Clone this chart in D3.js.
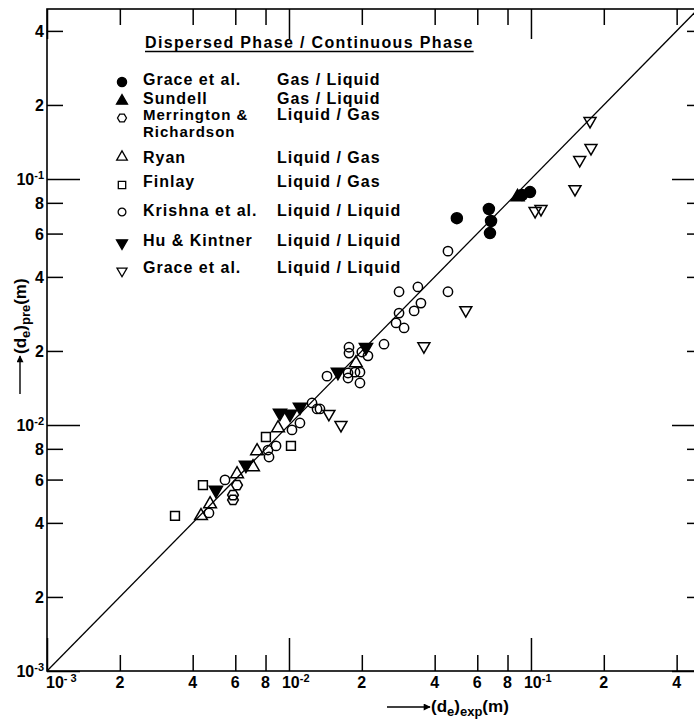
<!DOCTYPE html>
<html>
<head>
<meta charset="utf-8">
<title>Predicted vs experimental drop diameter</title>
<script src="https://d3js.org/d3.v7.min.js"></script>
<style>
    body { margin: 0; background: #fff; }
    svg { display: block; font-family: "Liberation Sans", Arial, Helvetica, sans-serif; font-weight: bold; }
</style>
</head>
<body>
<div id="chart"></div>
<script>
    // Data: [d_e experimental, d_e predicted] in metres
    const graceGasLiquid = [[0.0494, 0.0693], [0.0670, 0.0755], [0.0684, 0.0675], [0.0677, 0.0603], [0.0918, 0.0861], [0.0991, 0.0885]];
    const sundell = [[0.0880, 0.0845]];
    const merrington = [[0.0061, 0.0057], [0.00587, 0.00519], [0.00587, 0.00496]];
    const ryan = [[0.00433, 0.00427], [0.00472, 0.00477], [0.0061, 0.00632], [0.0071, 0.00675], [0.00738, 0.00784], [0.00901, 0.00972], [0.01891, 0.01786]];
    const finlay = [[0.00338, 0.00427], [0.00441, 0.0057], [0.00803, 0.00894], [0.01019, 0.00822]];
    const krishna = [[0.0454, 0.0509], [0.0454, 0.0348], [0.0341, 0.0364], [0.0285, 0.0348], [0.0351, 0.0313], [0.0285, 0.0285],
        [0.0329, 0.0291], [0.0277, 0.0260], [0.0299, 0.0248], [0.0247, 0.0213], [0.0177, 0.0207], [0.0177, 0.0196],
        [0.0200, 0.0198], [0.0212, 0.0191], [0.01436, 0.0158], [0.01754, 0.01627], [0.01754, 0.01553], [0.01874, 0.0164],
        [0.01965, 0.0164], [0.01965, 0.01482], [0.01245, 0.01229], [0.01306, 0.01162], [0.01343, 0.01162], [0.0111, 0.01019],
        [0.01029, 0.00955], [0.00819, 0.00791], [0.00884, 0.00822], [0.00827, 0.00741], [0.00544, 0.00598], [0.00467, 0.00439]];
    const huKintner = [[0.00499, 0.00544], [0.00664, 0.00688], [0.00918, 0.01119], [0.0101, 0.01109], [0.0111, 0.01184], [0.01593, 0.0164], [0.0208, 0.0207]];
    const graceLiquidLiquid = [[0.1754, 0.172], [0.177, 0.1337], [0.159, 0.1194], [0.152, 0.091], [0.104, 0.0741], [0.110, 0.0755],
        [0.0538, 0.0293], [0.0361, 0.0209], [0.01462, 0.0111], [0.0164, 0.0100]];

    const seriesNames = [["Grace et al."], ["Sundell"], ["Merrington &", "Richardson"], ["Ryan"], ["Finlay"], ["Krishna et al."], ["Hu & Kintner"], ["Grace et al."]];
    const seriesPhases = ["Gas / Liquid", "Gas / Liquid", "Liquid / Gas", "Liquid / Gas", "Liquid / Gas", "Liquid / Liquid", "Liquid / Liquid", "Liquid / Liquid"];
    const seriesData = [graceGasLiquid, sundell, merrington, ryan, finlay, krishna, huKintner, graceLiquidLiquid];

    const axisTicks = [0.001, 0.002, 0.004, 0.006, 0.008, 0.01, 0.02, 0.04, 0.06, 0.08, 0.1, 0.2, 0.4];
    const xTickLabels = [["10", "- 3"], ["2"], ["4"], ["6"], ["8"], ["10", "-2"], ["2"], ["4"], ["6"], ["8"], ["10", "-1"], ["2"], ["4"]];
    const yTickLabels = [["10", "-3"], ["2"], ["4"], ["6"], ["8"], ["10", "-2"], ["2"], ["4"], ["6"], ["8"], ["10", "-1"], ["2"], ["4"]];

    // Marker styles per series
    const hexagon = {
        draw(ctx, size) {
            const r = Math.sqrt(size / (1.5 * Math.sqrt(3)));
            for (let i = 0; i < 6; i++) {
                const a = Math.PI / 3 * i;
                if (i) ctx.lineTo(r * Math.cos(a), r * Math.sin(a));
                else ctx.moveTo(r * Math.cos(a), r * Math.sin(a));
            }
            ctx.closePath();
        }
    };
    const styles = [
        {type: d3.symbolCircle, size: 95, filled: true, flip: false},
        {type: d3.symbolTriangle, size: 75, filled: true, flip: false},
        {type: hexagon, size: 75, filled: false, flip: false},
        {type: d3.symbolTriangle, size: 70, filled: false, flip: false},
        {type: d3.symbolSquare, size: 78, filled: false, flip: false},
        {type: d3.symbolCircle, size: 68, filled: false, flip: false},
        {type: d3.symbolTriangle, size: 75, filled: true, flip: true},
        {type: d3.symbolTriangle, size: 62, filled: false, flip: true}
    ];

    const W = 694, H = 724;
    const svg = d3.select("#chart").append("svg")
        .attr("width", W)
        .attr("height", H);

    const x = d3.scaleLog().domain([1e-3, 0.514]).range([47, 703]);
    const y = d3.scaleLog().domain([1e-3, 0.491]).range([671, 9]);

    // frame
    svg.append("rect")
        .attr("x", x.range()[0]).attr("y", y.range()[1])
        .attr("width", x.range()[1] - x.range()[0])
        .attr("height", y.range()[0] - y.range()[1])
        .attr("fill", "none").attr("stroke", "#000").attr("stroke-width", 1.6);

    const isMajor = v => Math.abs(Math.log10(v) - Math.round(Math.log10(v))) < 1e-6;

    function styleAxis(g, major) {
        g.select(".domain").remove();
        g.selectAll(".tick line").attr("stroke", "#000").attr("stroke-width", 1.5);
        g.selectAll(".tick").filter(d => isMajor(d)).select("line").each(function () {
            const ln = d3.select(this);
            if (ln.attr("y2") !== null && +ln.attr("y2") !== 0) ln.attr("y2", major);
            else ln.attr("x2", major);
        });
    }

    svg.append("g").attr("transform", `translate(0,${y.range()[0]})`)
        .call(d3.axisBottom(x).tickValues(axisTicks).tickSize(-16).tickFormat(""))
        .call(g => styleAxis(g, -33));
    svg.append("g").attr("transform", `translate(0,${y.range()[1]})`)
        .call(d3.axisTop(x).tickValues(axisTicks).tickSize(-16).tickFormat(""))
        .call(g => styleAxis(g, 30));
    svg.append("g").attr("transform", `translate(${x.range()[0]},0)`)
        .call(d3.axisLeft(y).tickValues(axisTicks).tickSize(-16).tickFormat(""))
        .call(g => styleAxis(g, 33));
    svg.append("g").attr("transform", `translate(${x.range()[1]},0)`)
        .call(d3.axisRight(y).tickValues(axisTicks).tickSize(-16).tickFormat(""))
        .call(g => styleAxis(g, -31));

    // tick labels with superscripts
    const xl = svg.append("g").attr("font-size", 16);
    axisTicks.forEach((v, i) => {
        const lab = xTickLabels[i];
        const t = xl.append("text").attr("y", 688);
        if (lab.length > 1) {
            t.attr("x", i === 0 ? x(v) - 1 : x(v) - 7);
            t.append("tspan").text(lab[0]);
            t.append("tspan").attr("dy", -6).attr("font-size", 11).text(lab[1]);
        } else {
            t.attr("x", x(v)).attr("text-anchor", "middle").text(lab[0]);
        }
    });
    const yl = svg.append("g").attr("font-size", 16);
    axisTicks.forEach((v, i) => {
        const lab = yTickLabels[i];
        const t = yl.append("text").attr("x", 44).attr("y", y(v) + 6).attr("text-anchor", "end");
        t.append("tspan").text(lab[0]);
        if (lab.length > 1) t.append("tspan").attr("dy", -6).attr("font-size", 11).text(lab[1]);
    });

    // arrow marker for axis titles
    svg.append("defs").append("marker")
        .attr("id", "arr").attr("viewBox", "0 0 10 10")
        .attr("refX", 9).attr("refY", 5)
        .attr("markerWidth", 9).attr("markerHeight", 7)
        .attr("markerUnits", "userSpaceOnUse")
        .attr("orient", "auto")
        .append("path").attr("d", "M0,0L10,5L0,10Z").attr("fill", "#000");

    // x title
    svg.append("line").attr("x1", 387).attr("x2", 430).attr("y1", 707).attr("y2", 707)
        .attr("stroke", "#000").attr("stroke-width", 1.4).attr("marker-end", "url(#arr)");
    const xt = svg.append("text").attr("x", 431).attr("y", 712).attr("font-size", 17);
    xt.append("tspan").text("(d");
    xt.append("tspan").attr("dy", 4).attr("font-size", 13).text("e");
    xt.append("tspan").attr("dy", -4).text(")");
    xt.append("tspan").attr("dy", 4).attr("font-size", 13).text("exp");
    xt.append("tspan").attr("dy", -4).text("(m)");

    // y title (rotated)
    const yg = svg.append("g").attr("transform", "translate(26,354) rotate(-90)");
    yg.append("line").attr("x1", -40).attr("x2", -2).attr("y1", -6).attr("y2", -6)
        .attr("stroke", "#000").attr("stroke-width", 1.4).attr("marker-end", "url(#arr)");
    const yt = yg.append("text").attr("x", 0).attr("y", 0).attr("font-size", 17);
    yt.append("tspan").text("(d");
    yt.append("tspan").attr("dy", 4).attr("font-size", 13).text("e");
    yt.append("tspan").attr("dy", -4).text(")");
    yt.append("tspan").attr("dy", 4).attr("font-size", 13).text("pre");
    yt.append("tspan").attr("dy", -4).text("(m)");

    // plot area clip
    svg.append("clipPath").attr("id", "clip").append("rect")
        .attr("x", x.range()[0]).attr("y", y.range()[1])
        .attr("width", x.range()[1] - x.range()[0])
        .attr("height", y.range()[0] - y.range()[1]);

    const plot = svg.append("g").attr("clip-path", "url(#clip)");

    // parity line
    plot.append("line")
        .attr("x1", x(1e-3)).attr("y1", y(1e-3))
        .attr("x2", x(0.491)).attr("y2", y(0.491))
        .attr("stroke", "#000").attr("stroke-width", 1.3);

    const symbolPath = s => d3.symbol().type(s.type).size(s.size)();

    // data points
    seriesData.forEach((data, si) => {
        const s = styles[si];
        plot.append("g").selectAll("path")
            .data(data)
            .join("path")
            .attr("d", symbolPath(s))
            .attr("transform", d => `translate(${x(d[0])},${y(d[1])})${s.flip ? " rotate(180)" : ""}`)
            .attr("fill", s.filled ? "#000" : "none")
            .attr("stroke", "#000")
            .attr("stroke-width", 1.5);
    });

    // legend
    const legendMarkerY = [82, 101, 118, 157, 185, 212, 243, 271];
    const legendTextY = [85, 104, 120, 163, 187, 216, 246, 273];
    const legend = svg.append("g").attr("font-size", 16).attr("letter-spacing", 1);
    const header = legend.append("text").attr("x", 145).attr("y", 48)
        .attr("letter-spacing", 1.35)
        .text("Dispersed Phase / Continuous Phase");
    const hw = header.node().getComputedTextLength();
    legend.append("line").attr("x1", 145).attr("x2", 145 + hw).attr("y1", 51.5).attr("y2", 51.5)
        .attr("stroke", "#000").attr("stroke-width", 1.4);

    seriesNames.forEach((name, i) => {
        const s = styles[i];
        legend.append("path")
            .attr("d", d3.symbol().type(s.type).size(s.size * 0.7)())
            .attr("transform", `translate(122,${legendMarkerY[i]})${s.flip ? " rotate(180)" : ""}`)
            .attr("fill", s.filled ? "#000" : "none")
            .attr("stroke", "#000").attr("stroke-width", 1.3);
        // two-line names are set a touch smaller so the lines stay clear
        name.forEach((line, j) => {
            legend.append("text")
                .attr("x", 143)
                .attr("y", legendTextY[i] + j * 17)
                .attr("font-size", name.length > 1 ? 15 : null)
                .text(line);
        });
        legend.append("text").attr("x", 277).attr("y", legendTextY[i]).text(seriesPhases[i]);
    });
</script>
</body>
</html>
